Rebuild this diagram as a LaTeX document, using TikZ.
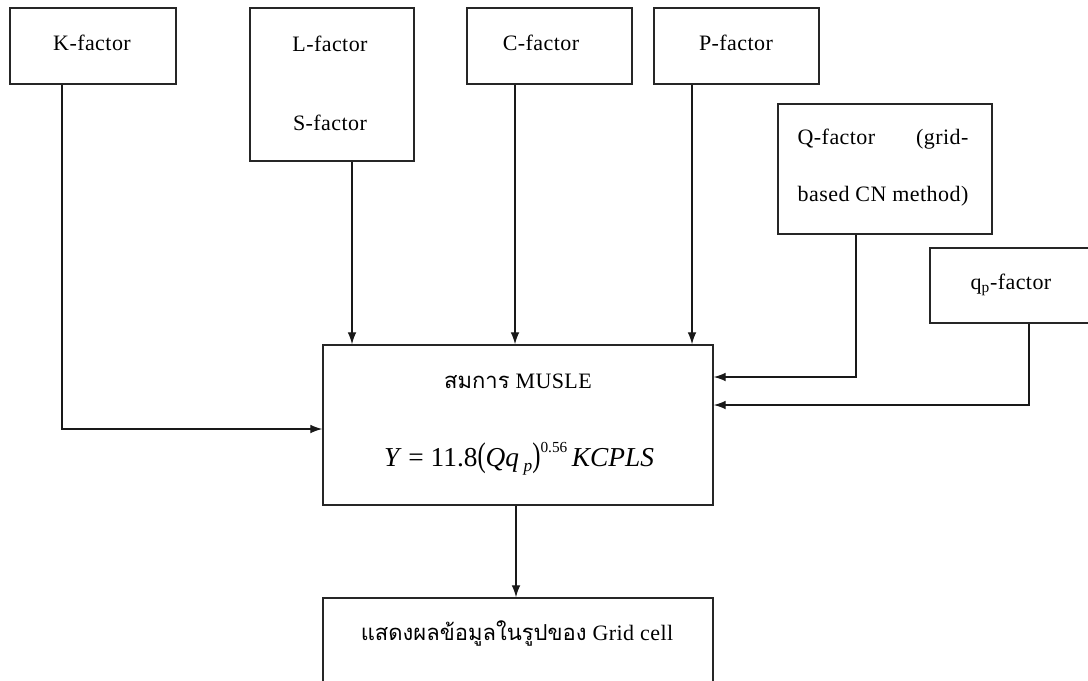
\documentclass[tikz,border=0pt]{standalone}
\usepackage{fontspec}
\setmainfont{Liberation Serif}[LetterSpace=2]
\newfontfamily\thai[Script=Thai]{Loma}
\usetikzlibrary{arrows.meta,fit}
\begin{document}
\begin{tikzpicture}[x=0.75pt,y=-0.75pt,
  box/.style={draw=black!85, line width=1.1pt, inner sep=0pt},
  txt/.style={inner sep=0pt, anchor=base, font=\fontsize{16.5}{19}\selectfont},
  conn/.style={draw=black!90, line width=0.9pt, -{Latex[length=9pt,width=6.5pt]}}]
\useasboundingbox (0,0) rectangle (1088,681);
\clip (0,0) rectangle (1088,681);
% boxes
\node[box, fit={(10,8) (176,84)}] (K) {};
\node[box, fit={(250,8) (414,161)}] (LS) {};
\node[box, fit={(467,8) (632,84)}] (C) {};
\node[box, fit={(654,8) (819,84)}] (P) {};
\node[box, fit={(778,104) (992,234)}] (Q) {};
\node[box, fit={(930,248) (1095,323)}] (qp) {};
\node[box, fit={(323,345) (713,505)}] (musle) {};
\node[box, fit={(323,598) (713,760)}] (out) {};
% texts
\node[txt] (Kt) at (92,51) {K-factor};
\node[txt] (Lt) at (330,52) {L-factor};
\node[txt] (St) at (330,131) {S-factor};
\node[txt] (Ct) at (541,51) {C-factor};
\node[txt] (Pt) at (736,51) {P-factor};
\node[txt] (Q1) at (883,145) {\setbox0\hbox{based CN method)}\hbox to\wd0{Q-factor\hfill(grid-}};
\node[txt] (Q2) at (883,201) {based CN method)};
\node[txt] (qpt) at (1011,289) {q\textsubscript{p}-factor};
\node[txt] (musletitle) at (518,388) {{\thai สมการ} MUSLE};
\node[txt, font=\fontsize{20.5}{24}\selectfont\addfontfeatures{LetterSpace=0}] (eq) at (519,466)
  {\textit{Y} = 11.8\scalebox{0.9}[1.25]{(}\textit{Qq}\,\raisebox{-4pt}{\fontsize{13}{13}\selectfont\textit{p}}\scalebox{0.9}[1.25]{)}\raisebox{10pt}{\fontsize{11.5}{12}\selectfont 0.56}\,\textit{KCPLS}};
\node[txt] (outtxt) at (517,640) {{\thai แสดงผลข้อมูลในรูปของ} Grid cell};
% connectors
\draw[conn] (K.south -| 62,0) |- ([yshift=-3pt]musle.west);
\draw[conn] (LS.south -| 352,0) -- (musle.north -| 352,0);
\draw[conn] (C.south -| 515,0) -- (musle.north -| 515,0);
\draw[conn] (P.south -| 692,0) -- (musle.north -| 692,0);
\draw[conn] (Q.south -| 856,0) |- (musle.east |- 0,377);
\draw[conn] (qp.south -| 1029,0) |- (musle.east |- 0,405);
\draw[conn] (musle.south -| 516,0) -- (out.north -| 516,0);
\end{tikzpicture}
\end{document}
